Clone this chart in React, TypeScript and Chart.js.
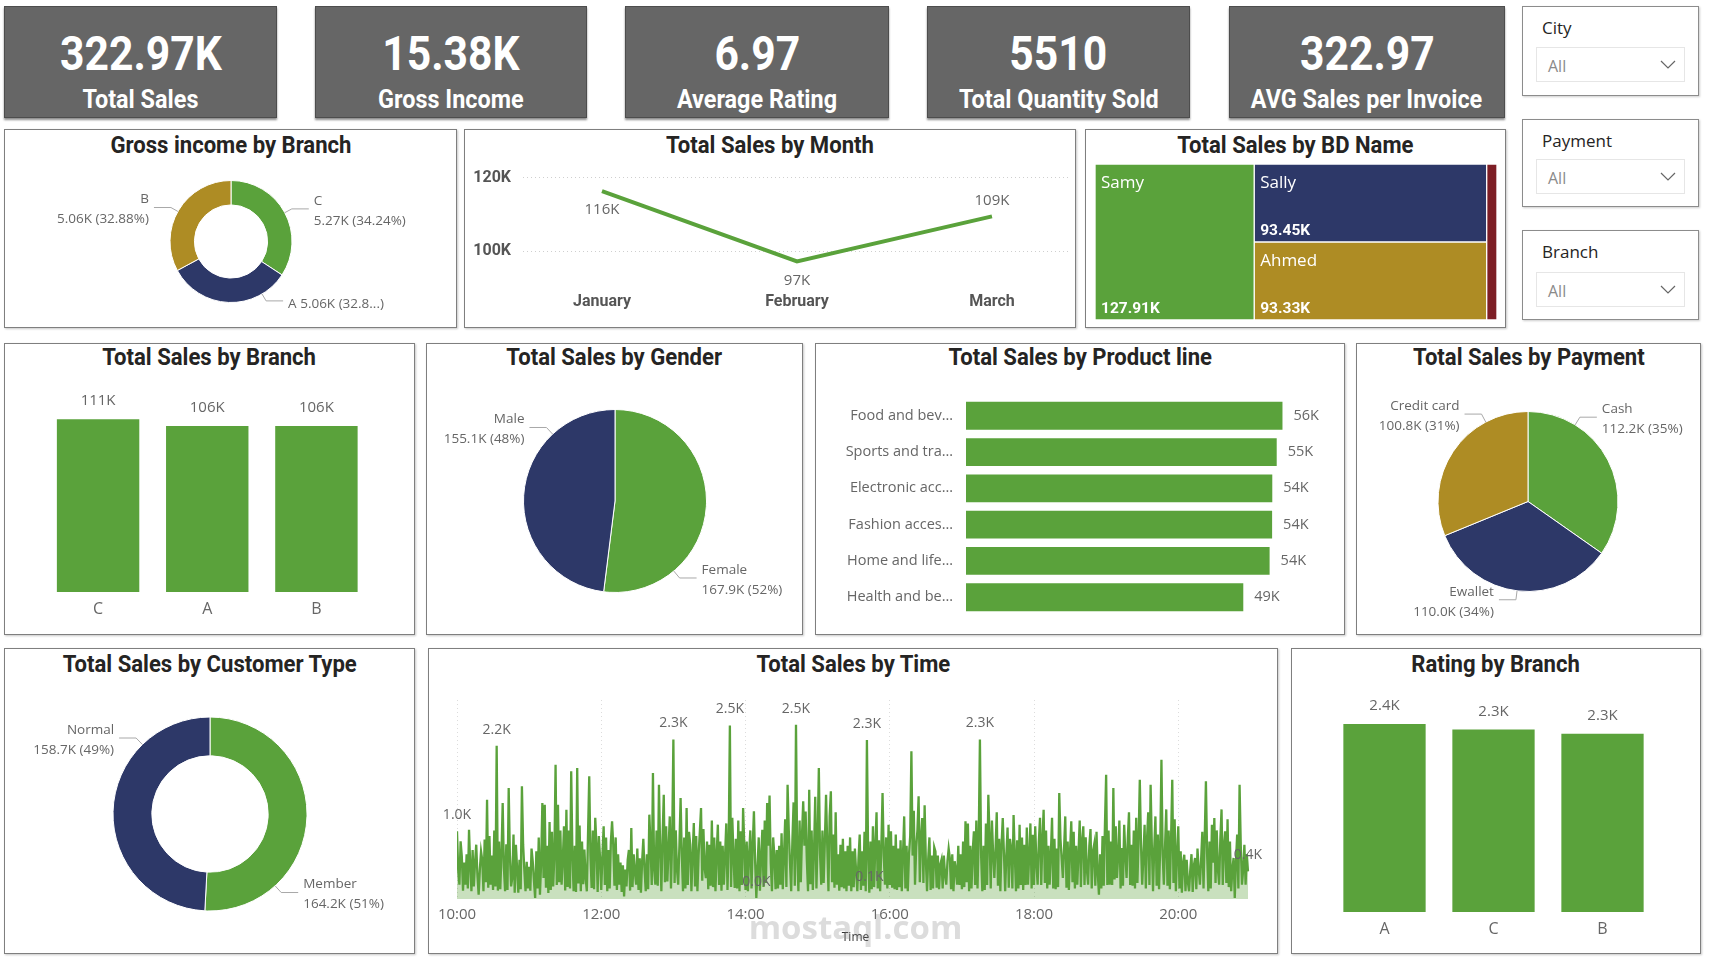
import React, { useEffect, useRef } from 'react';
import { Chart, registerables } from 'chart.js';

Chart.register(...registerables);

const DIN = "Roboto, 'Liberation Sans', sans-serif";
const SEGOE = "'Segoe UI', 'Open Sans', 'Noto Sans', sans-serif";
Chart.defaults.font.family = SEGOE;
Chart.defaults.color = '#666666';

const GREEN = '#5AA23B';
const NAVY = '#2D3868';
const GOLD = '#AE8C24';
const RED = '#7D1E25';
const LABEL = '#666666';

// ---------------- data ----------------
const kpiValues = ['322.97K', '15.38K', '6.97', '5510', '322.97'];
const kpiLabels = ['Total Sales', 'Gross Income', 'Average Rating', 'Total Quantity Sold', 'AVG Sales per Invoice'];

const slicerTitles = ['City', 'Payment', 'Branch'];
const slicerValues = ['All', 'All', 'All'];

const grossBranches = ['C', 'A', 'B'];
const grossIncome = [5265.18, 5057.16, 5057.03];

const months = ['January', 'February', 'March'];
const monthSales = [116291.87, 97219.37, 109455.51];
const monthTicks = [100000, 120000];

const bdNames = ['Samy', 'Sally', 'Ahmed', ''];
const bdSales = [127910, 93450, 93330, 8280];

const salesBranches = ['C', 'A', 'B'];
const branchSales = [110568.71, 106200.37, 106197.67];

const genders = ['Female', 'Male'];
const genderSales = [167882.93, 155083.82];

const productLines = ['Food and beverages', 'Sports and travel', 'Electronic accessories', 'Fashion accessories', 'Home and lifestyle', 'Health and beauty'];
const productTickLabels = ['Food and bev\u2026', 'Sports and tra\u2026', 'Electronic acc\u2026', 'Fashion acces\u2026', 'Home and life\u2026', 'Health and be\u2026'];
const productSales = [56144.84, 55122.83, 54337.53, 54305.9, 53861.91, 49193.74];

const payments = ['Cash', 'Ewallet', 'Credit card'];
const paymentSales = [112206.57, 109993.11, 100767.07];

const customerTypes = ['Member', 'Normal'];
const customerSales = [164223.44, 158743.31];

const ratingBranches = ['A', 'C', 'B'];
const branchRating = [2389.2, 2319.9, 2263.6];

// sales per minute, starting at 10:00 (one value per minute, 10:00 .. 20:58)
const timeSales = [
  967, 420, 205, 824, 610, 120, 520, 205, 640, 150,
  990, 480, 110, 700, 180, 520, 776, 340, 62, 420,
  681, 560, 110, 850, 240, 1419, 160, 900, 205, 620,
  130, 980, 180, 2190, 120, 820, 140, 640, 1371, 450,
  110, 780, 130, 1586, 620, 180, 300, 920, 90, 776,
  430, 90, 560, 140, 1610, 780, 420, 110, 530, 150,
  460, 120, 720, 538, 260, 14, 681, 150, 880, 62,
  520, 1371, 300, 1348, 160, 760, 86, 1100, 130, 960,
  180, 620, 1919, 200, 1348, 240, 980, 205, 560, 1040,
  120, 1276, 170, 980, 150, 1824, 640, 110, 760, 100,
  1871, 220, 1050, 110, 820, 210, 705, 300, 110, 940,
  1752, 620, 157, 980, 140, 1160, 776, 100, 900, 586,
  130, 640, 1038, 200, 880, 110, 700, 150, 820, 1110,
  760, 190, 880, 130, 640, 205, 520, 100, 480, 38,
  420, 180, 560, 700, 120, 1014, 170, 640, 380, 205,
  720, 130, 580, 90, 538, 860, 420, 110, 640, 140,
  1205, 760, 200, 1800, 420, 205, 980, 190, 1633, 720,
  110, 880, 1490, 240, 1040, 252, 720, 1180, 150, 860,
  2280, 230, 980, 420, 205, 760, 1443, 640, 110, 880,
  150, 1300, 200, 960, 776, 110, 620, 1086, 180, 900,
  110, 640, 960, 1300, 260, 1000, 440, 300, 820, 140,
  776, 190, 1120, 170, 880, 110, 640, 1062, 200, 820,
  120, 760, 205, 620, 1080, 130, 780, 2480, 170, 1160,
  620, 157, 860, 150, 1120, 110, 967, 200, 1300, 760,
  130, 820, 110, 640, 980, 150, 760, 1252, 540, 14,
  460, 880, 120, 620, 990, 170, 1120, 230, 1371, 760,
  1480, 520, 110, 880, 620, 140, 700, 150, 760, 205,
  940, 140, 620, 1140, 170, 1633, 980, 520, 110, 840,
  1380, 190, 2490, 640, 110, 1120, 240, 920, 1395, 760,
  1250, 560, 110, 1560, 210, 980, 130, 700, 1460, 150,
  860, 1871, 640, 205, 980, 230, 820, 1490, 760, 110,
  1180, 1538, 240, 920, 160, 1240, 205, 640, 120, 776,
  170, 860, 150, 680, 110, 760, 190, 880, 110, 681,
  170, 720, 400, 110, 580, 920, 130, 680, 190, 960,
  110, 2270, 640, 90, 820, 140, 1040, 170, 760, 1240,
  150, 840, 110, 760, 1514, 620, 205, 880, 150, 1060,
  200, 967, 160, 760, 140, 920, 130, 720, 170, 840,
  110, 640, 1180, 150, 760, 110, 640, 900, 2110, 620,
  1260, 205, 740, 980, 1467, 240, 880, 1157, 230, 1340,
  560, 110, 580, 880, 130, 620, 150, 740, 681, 160,
  620, 140, 490, 560, 150, 620, 340, 205, 540, 720,
  580, 140, 640, 110, 540, 420, 205, 760, 200, 640,
  140, 820, 170, 1110, 240, 1080, 110, 760, 150, 680,
  967, 200, 1120, 150, 860, 2280, 620, 110, 760, 130,
  1080, 200, 1490, 880, 150, 1120, 640, 300, 720, 1240,
  190, 860, 110, 780, 1157, 640, 110, 640, 1020, 160,
  860, 729, 150, 1200, 640, 110, 840, 150, 1060, 200,
  880, 130, 776, 200, 1020, 205, 620, 1080, 150, 919,
  200, 1040, 520, 205, 820, 1160, 200, 860, 1276, 230,
  980, 150, 760, 205, 640, 1160, 150, 860, 140, 720,
  170, 1514, 860, 580, 300, 720, 1180, 160, 820, 130,
  700, 1110, 240, 960, 150, 760, 205, 660, 1120, 170,
  840, 1038, 200, 880, 420, 205, 760, 1000, 150, 680,
  776, 190, 960, 380, 62, 640, 150, 900, 190, 1060,
  1776, 200, 980, 205, 820, 200, 1586, 280, 1040, 300,
  620, 1120, 150, 729, 190, 1060, 640, 300, 860, 1240,
  200, 776, 190, 980, 150, 1160, 230, 860, 1705, 780,
  205, 620, 1060, 150, 860, 1240, 200, 1633, 780, 110,
  720, 1180, 190, 920, 140, 760, 1990, 640, 205, 760,
  1280, 190, 980, 140, 860, 1705, 230, 1140, 110, 640,
  1040, 150, 680, 90, 520, 633, 110, 560, 240, 110,
  420, 640, 100, 480, 586, 140, 720, 420, 205, 560,
  960, 150, 880, 1681, 640, 110, 820, 150, 1060, 520,
  1157, 230, 980, 420, 205, 860, 1280, 200, 760, 967,
  230, 1140, 170, 820, 110, 420, 586, 14, 540, 920,
  150, 1633, 760, 205, 420, 776, 205, 640, 395,
];
const timeTickLabels = ['10:00', '12:00', '14:00', '16:00', '18:00', '20:00'];
const timeLabeledMinutes = [0, 33, 180, 227, 249, 282, 341, 343, 435, 658];

// ---------------- helpers ----------------
const fmtK0 = (v: number) => Math.round(v / 1000) + 'K';
const fmtK1 = (v: number) => (v / 1000).toFixed(1) + 'K';
const fmtK2 = (v: number) => (v / 1000).toFixed(2) + 'K';

const baseOptions = (extra: any) => ({
  animation: false,
  responsive: false,
  maintainAspectRatio: false,
  devicePixelRatio: 1,
  events: [],
  ...extra,
  plugins: { legend: { display: false }, tooltip: { enabled: false }, title: { display: false } },
});

type PieItem = { angle: number; inline?: boolean; pctChars?: number };

function pieLabels(id: string, items: PieItem[], fmtV: (v: number) => string, fmtP: (p: number) => string, radial = 9) {
  return {
    id,
    afterDatasetsDraw(chart: any) {
      const ctx = chart.ctx;
      const meta = chart.getDatasetMeta(0);
      const vals = chart.data.datasets[0].data as number[];
      const total = vals.reduce((a, b) => a + b, 0);
      ctx.save();
      ctx.font = `13.5px ${SEGOE}`;
      meta.data.forEach((arc: any, i: number) => {
        const it = items[i];
        if (!it) return;
        const th = (it.angle * Math.PI) / 180;
        const s = Math.sin(th);
        const c = Math.cos(th);
        const r = arc.outerRadius;
        const ax = arc.x + r * s;
        const ay = arc.y - r * c;
        const ex = arc.x + (r + radial) * s;
        const ey = arc.y - (r + radial) * c;
        const left = s < 0;
        const hx = ex + (left ? -17 : 17);
        ctx.strokeStyle = '#a8a8a8';
        ctx.lineWidth = 1;
        ctx.beginPath();
        ctx.moveTo(ax, ay);
        ctx.lineTo(ex, ey);
        ctx.lineTo(hx, ey);
        ctx.stroke();
        const tx = hx + (left ? -5 : 5);
        ctx.fillStyle = LABEL;
        ctx.textAlign = left ? 'right' : 'left';
        ctx.textBaseline = 'middle';
        const name = String(chart.data.labels[i]);
        let pct = fmtP((vals[i] / total) * 100);
        if (it.pctChars) pct = pct.slice(0, it.pctChars) + '...';
        const val = fmtV(vals[i]) + ' (' + pct + ')';
        if (it.inline) {
          ctx.fillText(name + ' ' + val, tx, ey + 3);
        } else {
          ctx.fillText(name, tx, ey - 8);
          ctx.fillText(val, tx, ey + 12);
        }
      });
      ctx.restore();
    },
  };
}

function barTopLabels(id: string, fmt: (v: number) => string, dy: number) {
  return {
    id,
    afterDatasetsDraw(chart: any) {
      const ctx = chart.ctx;
      const meta = chart.getDatasetMeta(0);
      const vals = chart.data.datasets[0].data as number[];
      ctx.save();
      ctx.font = `15px ${SEGOE}`;
      ctx.fillStyle = LABEL;
      ctx.textAlign = 'center';
      ctx.textBaseline = 'middle';
      meta.data.forEach((b: any, i: number) => ctx.fillText(fmt(vals[i]), b.x, b.y - dy));
      ctx.restore();
    },
  };
}

const pct2 = (p: number) => p.toFixed(2) + '%';
const pct0 = (p: number) => Math.round(p) + '%';

// ---------------- chart builders ----------------
const buildGross = () => ({
  type: 'doughnut',
  data: { labels: grossBranches, datasets: [{ data: grossIncome, backgroundColor: [GREEN, NAVY, GOLD], borderColor: '#ffffff', borderWidth: 1 }] },
  options: baseOptions({ cutout: '60%', layout: { padding: { left: 164.5, right: 163.5, top: 20, bottom: 22 } } }),
  plugins: [
    pieLabels('grossLbl', [{ angle: 61.8 }, { angle: 149.4, inline: true, pctChars: 4 }, { angle: 299.5 }], fmtK2, pct2, 8),
  ],
});

const MONTH_LABEL_DY = [19, 19, -16];
const buildMonth = () => ({
  type: 'line',
  data: { datasets: [{ data: months.map((_, i) => ({ x: i, y: monthSales[i] })), borderColor: GREEN, borderWidth: 4, pointRadius: 0, tension: 0, fill: false }] },
  options: baseOptions({
    layout: { padding: { left: 0, right: 7, top: 0, bottom: 0 } },
    scales: {
      x: {
        type: 'linear', min: -0.405, max: 2.395,
        afterBuildTicks: (s: any) => { s.ticks = months.map((_, i) => ({ value: i })); },
        afterFit: (s: any) => { s.height = 40; },
        grid: { display: false, drawTicks: false },
        border: { display: false },
        ticks: { callback: (v: any) => months[v], padding: 7, color: '#555555', font: { family: DIN, size: 16, weight: 'bold' } },
      },
      y: {
        min: 90800, max: 124600,
        afterBuildTicks: (s: any) => { s.ticks = monthTicks.map((v) => ({ value: v })); },
        afterFit: (s: any) => { s.width = 58; },
        grid: { color: '#cfcfcf', drawTicks: false },
        border: { display: false, dash: [1, 3] },
        ticks: { callback: (v: any) => v / 1000 + 'K', padding: 12, color: '#555555', font: { family: DIN, size: 16, weight: 'bold' } },
      },
    },
  }),
  plugins: [{
    id: 'monthLbl',
    afterDatasetsDraw(chart: any) {
      const ctx = chart.ctx;
      const meta = chart.getDatasetMeta(0);
      ctx.save();
      ctx.font = `15px ${SEGOE}`;
      ctx.fillStyle = LABEL;
      ctx.textAlign = 'center';
      ctx.textBaseline = 'middle';
      meta.data.forEach((p: any, i: number) => ctx.fillText(fmtK0(monthSales[i]), p.x, p.y + MONTH_LABEL_DY[i]));
      ctx.restore();
    },
  }],
});

const buildTreemap = () => {
  const total = bdSales.reduce((a, b) => a + b, 0);
  const c1 = bdSales[0];
  const c2 = bdSales[0] + bdSales[1] + bdSales[2];
  const colors = [GREEN, NAVY, GOLD, RED];
  const rows: any[][] = [
    [[0, c1], [0, c1]],
    [[c1, c2], null],
    [null, [c1, c2]],
    [[c2, total], [c2, total]],
  ];
  return {
    type: 'bar',
    data: {
      labels: ['r0', 'r1'],
      datasets: rows.map((d, k) => ({
        data: d,
        backgroundColor: colors[k],
        borderColor: '#ffffff',
        borderSkipped: false,
        borderWidth: k === 0 || k === 3
          ? (c: any) => (c.dataIndex === 0 ? { top: 1, left: 1, right: 1, bottom: 0 } : { top: 0, left: 1, right: 1, bottom: 1 })
          : 1,
        grouped: false,
        categoryPercentage: 1,
        barPercentage: 1,
      })),
    },
    options: baseOptions({
      indexAxis: 'y',
      layout: { padding: 0 },
      scales: { x: { type: 'linear', display: false, min: 0, max: total }, y: { display: false } },
    }),
    plugins: [{
      id: 'tmLbl',
      afterDatasetsDraw(chart: any) {
        const ctx = chart.ctx;
        ctx.save();
        ctx.fillStyle = '#ffffff';
        ctx.textAlign = 'left';
        ctx.textBaseline = 'middle';
        chart.data.datasets.forEach((ds: any, di: number) => {
          const meta = chart.getDatasetMeta(di);
          let l = Infinity, r = -Infinity, t = Infinity, b = -Infinity;
          meta.data.forEach((el: any, j: number) => {
            if (ds.data[j] == null) return;
            l = Math.min(l, el.x, el.base); r = Math.max(r, el.x, el.base);
            t = Math.min(t, el.y - el.height / 2); b = Math.max(b, el.y + el.height / 2);
          });
          if (!bdNames[di] || r - l < 40) return;
          ctx.font = `17px ${SEGOE}`;
          ctx.fillText(bdNames[di], l + 6, t + 19);
          ctx.font = `bold 15.5px ${DIN}`;
          ctx.fillText(fmtK2(bdSales[di]), l + 6, b - 11);
        });
        ctx.restore();
      },
    }],
  };
};

const vBar = (labels: string[], values: number[], max: number, pad: any, fmt: (v: number) => string, id: string) => ({
  type: 'bar',
  data: { labels, datasets: [{ data: values, backgroundColor: GREEN, categoryPercentage: 1, barPercentage: 0.755 }] },
  options: baseOptions({
    layout: { padding: pad },
    scales: {
      x: {
        grid: { display: false, drawTicks: false },
        border: { display: false },
        afterFit: (s: any) => { s.height = 38; },
        ticks: { padding: 8, color: LABEL, font: { family: SEGOE, size: 16 } },
      },
      y: { display: false, min: 0, max },
    },
  }),
  plugins: [barTopLabels(id, fmt, 18)],
});

const buildGender = () => ({
  type: 'pie',
  data: { labels: genders, datasets: [{ data: genderSales, backgroundColor: [GREEN, NAVY], borderColor: '#ffffff', borderWidth: 1 }] },
  options: baseOptions({ layout: { padding: { left: 96, right: 95, top: 34, bottom: 40 } } }),
  plugins: [pieLabels('genderLbl', [{ angle: 140 }, { angle: 317 }], fmtK1, pct0)],
});

const buildProduct = () => ({
  type: 'bar',
  data: { labels: productLines, datasets: [{ data: productSales, backgroundColor: GREEN, categoryPercentage: 1, barPercentage: 0.77 }] },
  options: baseOptions({
    indexAxis: 'y',
    layout: { padding: { left: 0, right: 54, top: 0, bottom: 0 } },
    scales: {
      x: { display: false, min: 0, max: 57480 },
      y: {
        grid: { display: false, drawTicks: false },
        border: { display: false },
        afterFit: (s: any) => { s.width = 150; },
        ticks: { callback: (_v: any, i: number) => productTickLabels[i], padding: 13, color: LABEL, font: { family: SEGOE, size: 14.5 } },
      },
    },
  }),
  plugins: [{
    id: 'prodLbl',
    afterDatasetsDraw(chart: any) {
      const ctx = chart.ctx;
      const meta = chart.getDatasetMeta(0);
      ctx.save();
      ctx.font = `14.5px ${SEGOE}`;
      ctx.fillStyle = LABEL;
      ctx.textAlign = 'left';
      ctx.textBaseline = 'middle';
      meta.data.forEach((b: any, i: number) => ctx.fillText(fmtK0(productSales[i]), b.x + 11, b.y));
      ctx.restore();
    },
  }],
});

const buildPayment = () => ({
  type: 'pie',
  data: { labels: payments, datasets: [{ data: paymentSales, backgroundColor: [GREEN, NAVY, GOLD], borderColor: '#ffffff', borderWidth: 1 }] },
  options: baseOptions({ layout: { padding: { left: 80.5, right: 81.5, top: 36, bottom: 41 } } }),
  plugins: [pieLabels('payLbl', [{ angle: 31.6 }, { angle: 187 }, { angle: 332 }], fmtK1, pct0)],
});

const buildCustomer = () => ({
  type: 'doughnut',
  data: { labels: customerTypes, datasets: [{ data: customerSales, backgroundColor: [GREEN, NAVY], borderColor: '#ffffff', borderWidth: 1 }] },
  options: baseOptions({ cutout: '60%', layout: { padding: { left: 107.5, right: 106.5, top: 31.5, bottom: 41.5 } } }),
  plugins: [pieLabels('custLbl', [{ angle: 137.8 }, { angle: 315.8 }], fmtK1, pct0)],
});

const buildTime = () => ({
  type: 'line',
  data: {
    datasets: [{
      data: timeSales.map((v, m) => ({ x: m, y: v })),
      borderColor: GREEN, borderWidth: 2.3, pointRadius: 0, tension: 0,
      fill: 'origin', backgroundColor: 'rgba(90,162,59,0.33)',
    }],
  },
  options: baseOptions({
    layout: { padding: { left: 29, right: 23, top: 20, bottom: 0 } },
    scales: {
      x: {
        type: 'linear', min: 0, max: 663,
        afterBuildTicks: (s: any) => { s.ticks = timeTickLabels.map((_, i) => ({ value: i * 120 })); },
        afterFit: (s: any) => { s.height = 51; },
        grid: { color: '#dcdcdc', drawTicks: false },
        border: { display: false, dash: [1, 3] },
        ticks: { callback: (v: any) => timeTickLabels[Math.round(v / 120)], padding: 7, color: LABEL, font: { family: SEGOE, size: 15 } },
        title: { display: true, text: 'Time', color: '#333333', font: { family: SEGOE, size: 12 }, padding: { top: 0, bottom: 5 } },
      },
      y: { display: false, min: 0, max: 2843 },
    },
  }),
  plugins: [{
    id: 'timeLbl',
    afterDatasetsDraw(chart: any) {
      const ctx = chart.ctx;
      const meta = chart.getDatasetMeta(0);
      ctx.save();
      ctx.font = `14px ${SEGOE}`;
      ctx.fillStyle = LABEL;
      ctx.textAlign = 'center';
      ctx.textBaseline = 'middle';
      timeLabeledMinutes.forEach((m) => {
        const p = meta.data[m];
        if (!p) return;
        ctx.fillText(fmtK1(timeSales[m]), p.x, p.y - 16);
      });
      ctx.restore();
    },
  }],
});

// ---------------- components ----------------
function ChartCanvas({ x, y, w, h, build }: { x: number; y: number; w: number; h: number; build: () => any }) {
  const ref = useRef<HTMLCanvasElement | null>(null);
  useEffect(() => {
    if (!ref.current) return;
    const chart = new Chart(ref.current, build());
    return () => chart.destroy();
  }, []);
  return <canvas ref={ref} width={w} height={h} style={{ position: 'absolute', left: x, top: y, width: w, height: h }} />;
}

function Panel({ x, y, w, h, title, ty }: { x: number; y: number; w: number; h: number; title: string; ty: number }) {
  return (
    <div style={{ position: 'absolute', left: x, top: y, width: w, height: h, boxSizing: 'border-box', border: '1px solid #7f7f7f', boxShadow: '1px 1px 2px rgba(0,0,0,0.22)', background: '#ffffff' }}>
      <div style={{ position: 'absolute', left: 0, right: 0, top: ty - 16, height: 32, lineHeight: '32px', textAlign: 'center', whiteSpace: 'nowrap' }}>
        <span style={{ display: 'inline-block', transform: 'scaleX(0.92)', font: `bold 24px ${DIN}`, color: '#252423' }}>{title}</span>
      </div>
    </div>
  );
}

const KPI_POS = [{ x: 4, w: 273 }, { x: 315, w: 272 }, { x: 625, w: 264 }, { x: 927, w: 263 }, { x: 1229, w: 276 }];
const SLICER_POS = [{ y: 6, h: 90, dy: 41 }, { y: 119, h: 88, dy: 40 }, { y: 230, h: 90, dy: 42 }];

export default function App() {
  return (
    <div style={{ position: 'absolute', left: 0, top: 0, width: 1711, height: 961, background: '#ffffff', overflow: 'hidden' }}>
      {kpiValues.map((v, i) => (
        <div key={'k' + i} style={{ position: 'absolute', left: KPI_POS[i].x, top: 6, width: KPI_POS[i].w, height: 112, boxSizing: 'border-box', background: '#666666', border: '1px solid #4d4d4d', boxShadow: '0 2px 2px rgba(0,0,0,0.45)', color: '#ffffff', textAlign: 'center' }}>
          <div style={{ position: 'absolute', left: 0, right: 0, top: 18, height: 60, lineHeight: '60px', whiteSpace: 'nowrap' }}>
            <span style={{ display: 'inline-block', transform: 'scaleX(0.87)', font: `bold 49px ${DIN}` }}>{v}</span>
          </div>
          <div style={{ position: 'absolute', left: 0, right: 0, top: 77, height: 30, lineHeight: '30px', whiteSpace: 'nowrap' }}>
            <span style={{ display: 'inline-block', transform: 'scaleX(0.9)', font: `bold 26px ${DIN}` }}>{kpiLabels[i]}</span>
          </div>
        </div>
      ))}

      {slicerTitles.map((t, i) => (
        <div key={'s' + i} style={{ position: 'absolute', left: 1522, top: SLICER_POS[i].y, width: 177, height: SLICER_POS[i].h, boxSizing: 'border-box', border: '1px solid #8c8c8c', boxShadow: '1px 1px 2px rgba(0,0,0,0.2)', background: '#ffffff' }}>
          <div style={{ position: 'absolute', left: 19, top: 8, height: 24, display: 'flex', alignItems: 'center', font: `17px ${SEGOE}`, color: '#252423' }}>{t}</div>
          <div style={{ position: 'absolute', left: 13, top: SLICER_POS[i].dy - 1, width: 149, height: 35, boxSizing: 'border-box', border: '1px solid #e6e6e6' }}>
            <div style={{ position: 'absolute', left: 11, top: 1, height: 33, display: 'flex', alignItems: 'center', font: `16px ${SEGOE}`, color: '#8a8a8a' }}>{slicerValues[i]}</div>
            <svg style={{ position: 'absolute', left: 123, top: 12 }} width="16" height="10">
              <polyline points="1,1 8,8 15,1" fill="none" stroke="#666666" strokeWidth="1.2" />
            </svg>
          </div>
        </div>
      ))}

      <Panel x={4} y={129} w={453} h={199} title="Gross income by Branch" ty={17} />
      <Panel x={464} y={129} w={612} h={199} title="Total Sales by Month" ty={17} />
      <Panel x={1085} y={129} w={421} h={199} title="Total Sales by BD Name" ty={17} />
      <Panel x={4} y={343} w={411} h={292} title="Total Sales by Branch" ty={15} />
      <Panel x={426} y={343} w={377} h={292} title="Total Sales by Gender" ty={15} />
      <Panel x={815} y={343} w={530} h={292} title="Total Sales by Product line" ty={15} />
      <Panel x={1356} y={343} w={345} h={292} title="Total Sales by Payment" ty={15} />
      <Panel x={4} y={648} w={411} h={306} title="Total Sales by Customer Type" ty={17} />
      <Panel x={428} y={648} w={850} h={306} title="Total Sales by Time" ty={17} />
      <Panel x={1291} y={648} w={410} h={306} title="Rating by Branch" ty={17} />

      <ChartCanvas x={5} y={160} w={451} h={165} build={buildGross} />
      <ChartCanvas x={465} y={139} w={611} h={186} build={buildMonth} />
      <ChartCanvas x={1095} y={164} w={402} h={156} build={buildTreemap} />
      <ChartCanvas x={5} y={380} w={409} h={250} build={() => vBar(salesBranches, branchSales, 126000, { left: 38.5, right: 43, top: 15, bottom: 0 }, fmtK0, 'brLbl')} />
      <ChartCanvas x={427} y={375} w={375} h={258} build={buildGender} />
      <ChartCanvas x={816} y={376} w={528} h={261} build={buildProduct} />
      <ChartCanvas x={1357} y={375} w={343} h={258} build={buildPayment} />
      <ChartCanvas x={5} y={685} w={409} h={268} build={buildCustomer} />
      <ChartCanvas x={428} y={680} w={849} h={270} build={buildTime} />
      <ChartCanvas x={1292} y={690} w={408} h={260} build={() => vBar(ratingBranches, branchRating, 2694, { left: 38, right: 43, top: 10, bottom: 0 }, fmtK1, 'rtLbl')} />

      <div style={{ position: 'absolute', left: 733, top: 904, width: 245, textAlign: 'center', font: `bold 33px ${SEGOE}`, color: 'rgba(140,140,140,0.3)', pointerEvents: 'none', whiteSpace: 'nowrap' }}>mostaql.com</div>
    </div>
  );
}
